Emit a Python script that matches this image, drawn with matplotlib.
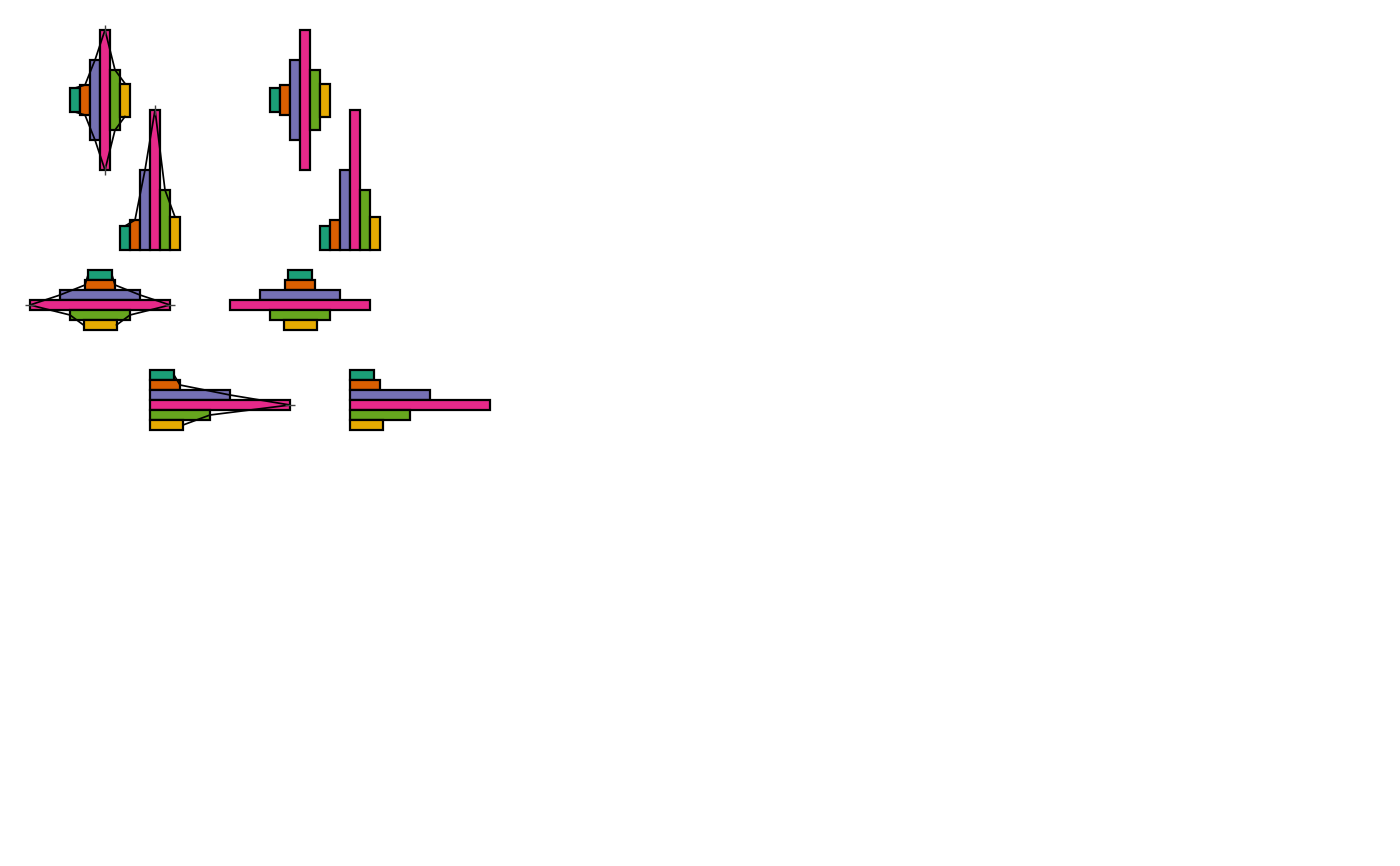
import numpy as np
import matplotlib.pyplot as plt

#%% Data
names = ["a", "b", "c", "d", "e", "f"]
values = np.array([24, 30, 80, 140, 60, 33])
colors = ["#1b9e77", "#d95f02", "#7570b3", "#e7298a", "#66a61e", "#e6ab02"]

bar_w = 10

# glyph anchor (px), orientation, centered?, outline?
glyphs = [
    (70, 100, "v", True, True),
    (120, 250, "v", False, True),
    (270, 100, "v", True, False),
    (320, 250, "v", False, False),
    (100, 270, "h", True, True),
    (300, 270, "h", True, False),
    (150, 370, "h", False, True),
    (350, 370, "h", False, False),
]

#%% Plot
fig = plt.figure(figsize=(14, 8.66), dpi=100)
ax = fig.add_axes([0, 0, 1, 1])
ax.set_xlim(0, 1400)
ax.set_ylim(866, 0)
ax.axis("off")

peak = int(np.argmax(values))
line_kw = dict(color="black", lw=1.25, zorder=5, solid_joinstyle="miter")


def outline_line(xs, ys, mk):
    ax.plot(xs, ys, **line_kw)
    # the sharp peak join shows a small miter spike in the reference
    ax.plot(xs[peak], ys[peak], marker=mk, ms=7, mew=1.0, color="#444444", zorder=6)


for x0, y0, orient, centered, outline in glyphs:
    pos = np.arange(len(values)) * bar_w + bar_w / 2
    if orient == "v":
        xs = x0 + pos
        bottoms = y0 - values / 2 if centered else y0 - values
        ax.bar(xs, values, width=bar_w, bottom=bottoms, color=colors,
               edgecolor="black", linewidth=1.6, zorder=3)
        if outline:
            outline_line(xs, bottoms, "|")
            if centered:
                outline_line(xs, bottoms + values, "|")
    else:
        ys = y0 + pos
        lefts = x0 - values / 2 if centered else np.full(len(values), x0)
        ax.barh(ys, values, height=bar_w, left=lefts, color=colors,
                edgecolor="black", linewidth=1.6, zorder=3)
        if outline:
            if centered:
                outline_line(lefts, ys, "_")
            outline_line(lefts + values, ys, "_")

fig.savefig("out.png", dpi=100, facecolor="white")
